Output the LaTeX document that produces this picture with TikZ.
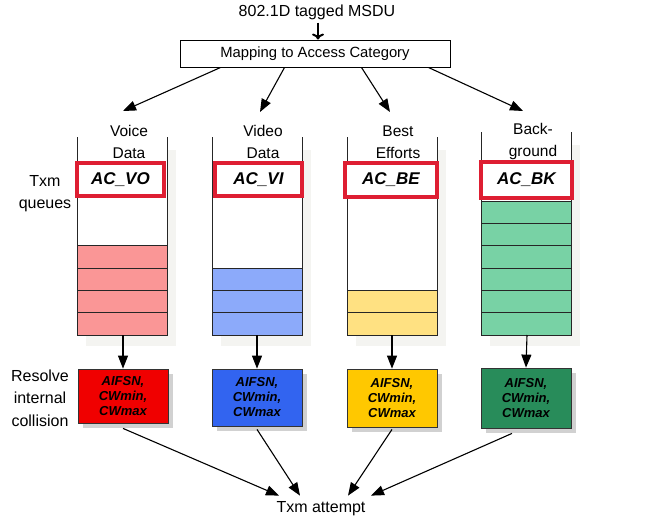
\documentclass[tikz,border=0pt]{standalone}
\usepackage{fontspec}
\setmainfont{Liberation Sans}
\usetikzlibrary{arrows.meta,calc,shadows}
\definecolor{qred}{RGB}{250,150,150}
\definecolor{qblue}{RGB}{140,170,250}
\definecolor{qyel}{RGB}{255,225,130}
\definecolor{qgreen}{RGB}{120,210,165}
\definecolor{bred}{RGB}{240,0,0}
\definecolor{bblue}{RGB}{50,100,240}
\definecolor{byel}{RGB}{255,200,0}
\definecolor{bgreen}{RGB}{40,140,90}
\definecolor{lred}{RGB}{222,30,50}
\definecolor{qshade}{RGB}{244,244,241}
\begin{document}
\begin{tikzpicture}[x=1pt,y=-1pt,
  txt/.style={inner sep=0pt, align=center, font=\fontsize{15.5}{22}\selectfont},
  lab/.style={draw=lred, line width=3.5pt, fill=white, inner sep=0pt, font=\fontsize{17}{20}\selectfont\bfseries\itshape},
  pbox/.style={draw=black!80, line width=0.8pt, minimum width=90pt, inner sep=0pt, align=center,
    font=\fontsize{13}{15}\selectfont\bfseries\itshape,
    drop shadow={shadow xshift=5pt, shadow yshift=-5pt, fill=black!18, opacity=1}},
  arr/.style={line width=1.1pt, -{Triangle[length=13pt,width=10pt]}},
  qline/.style={line width=1pt, black!85}]
\useasboundingbox (0,0) rectangle (653,520);
% title and mapping
\node[txt, font=\fontsize{16}{18}\selectfont] (title) at (317,12) {802.1D tagged MSDU};
\node[draw, line width=1pt, minimum width=270pt, minimum height=27pt, inner sep=0pt,
  font=\fontsize{14.8}{17}\selectfont] (map) at (315,53.5) {Mapping to Access Category};
\coordinate (ax) at (318,0);
\draw[line width=2pt, -{To[length=6pt,width=12pt,line width=2pt]}] ($(title.south -| ax)+(0,3)$) -- (map.north -| ax);
% queues
\foreach \xl/\yt/\n/\c in {77/137/4/qred, 212/137/3/qblue, 347/137/2/qyel, 481/132/6/qgreen}{
  \fill[qshade] ({\xl+9},{\yt+13}) rectangle ({\xl+99},346);
  \fill[white] (\xl,\yt) rectangle ({\xl+90},335);
  \foreach \i in {1,...,\n}{
    \draw[qline, fill=\c] (\xl,{335-\i*22.3}) rectangle ({\xl+90},{335-(\i-1)*22.3});
  }
  \draw[qline] (\xl,\yt) -- (\xl,335) -- ({\xl+90},335) -- ({\xl+90},\yt);
}
% queue labels
\node[txt] (l1) at (129,142) {Voice\\Data};
\node[txt] (l2) at (263,142) {Video\\Data};
\node[txt] (l3) at (398,142) {Best\\Efforts};
\node[txt] (l4) at (533,141) {Back-\\ground};
% AC labels
\node[lab, minimum width=87pt, minimum height=33pt] (ac1) at (120.5,179.5) {AC\_VO};
\node[lab, minimum width=87pt, minimum height=33pt] (ac2) at (258.5,179.5) {AC\_VI};
\node[lab, minimum width=92pt, minimum height=34pt] (ac3) at (391,180) {AC\_BE};
\node[lab, minimum width=91pt, minimum height=36pt] (ac4) at (526.5,180) {AC\_BK};
% arrows from mapping
\coordinate (m1) at ($(map.south west)+(41,0)$);
\coordinate (m2) at ($(map.south west)+(105,0)$);
\coordinate (m3) at ($(map.south west)+(182,0)$);
\coordinate (m4) at ($(map.south west)+(249,0)$);
\coordinate (a1) at (123,111);
\coordinate (a2) at (260,112);
\coordinate (a3) at (390,112);
\coordinate (a4) at (523,111);
\draw[arr] (m1) -- (a1);
\draw[arr] (m2) -- (a2);
\draw[arr] (m3) -- (a3);
\draw[arr] (m4) -- (a4);
% side labels
\node[txt, font=\fontsize{16}{22}\selectfont] (tq) at (45,194) {Txm\\queues};
\node[txt, font=\fontsize{16}{22.5}\selectfont] (rc) at (40,398) {Resolve\\internal\\collision};
% parameter boxes
\node[pbox, fill=bred, minimum height=54pt] (p1) at (123,396) {AIFSN,\\CWmin,\\CWmax};
\node[pbox, fill=bblue, minimum height=57pt] (p2) at (257,397.5) {AIFSN,\\CWmin,\\CWmax};
\node[pbox, fill=byel, minimum height=58pt] (p3) at (392,398) {AIFSN,\\CWmin,\\CWmax};
\node[pbox, fill=bgreen, minimum height=60pt] (p4) at (526,398) {AIFSN,\\CWmin,\\CWmax};
% queue bottoms
\coordinate (q1) at (123,335);
\coordinate (q2) at (257,335);
\coordinate (q3) at (392,335);
\coordinate (q4) at (527,335);
\draw[arr] (q1) -- (p1.north);
\draw[arr] (q2) -- (p2.north);
\draw[arr] (q3) -- (p3.north);
\draw[arr] (q4) -- (p4.north);
% attempt
\node[txt, font=\fontsize{16}{18}\selectfont, inner sep=2pt] (att) at (321,509) {Txm attempt};
\coordinate (t1) at ($(att.north)+(-42,-4)$);
\coordinate (t2) at ($(att.north)+(-21,-4)$);
\coordinate (t3) at ($(att.north)+(27,-4)$);
\coordinate (t4) at ($(att.north)+(50,-4)$);
\draw[arr] ($(p1.south)+(0,5)$) -- (t1);
\draw[arr] ($(p2.south)+(0,3)$) -- (t2);
\draw[arr] ($(p3.south)+(0,2)$) -- (t3);
\draw[arr] ($(p4.south)+(-14,5)$) -- (t4);
\end{tikzpicture}
\end{document}
